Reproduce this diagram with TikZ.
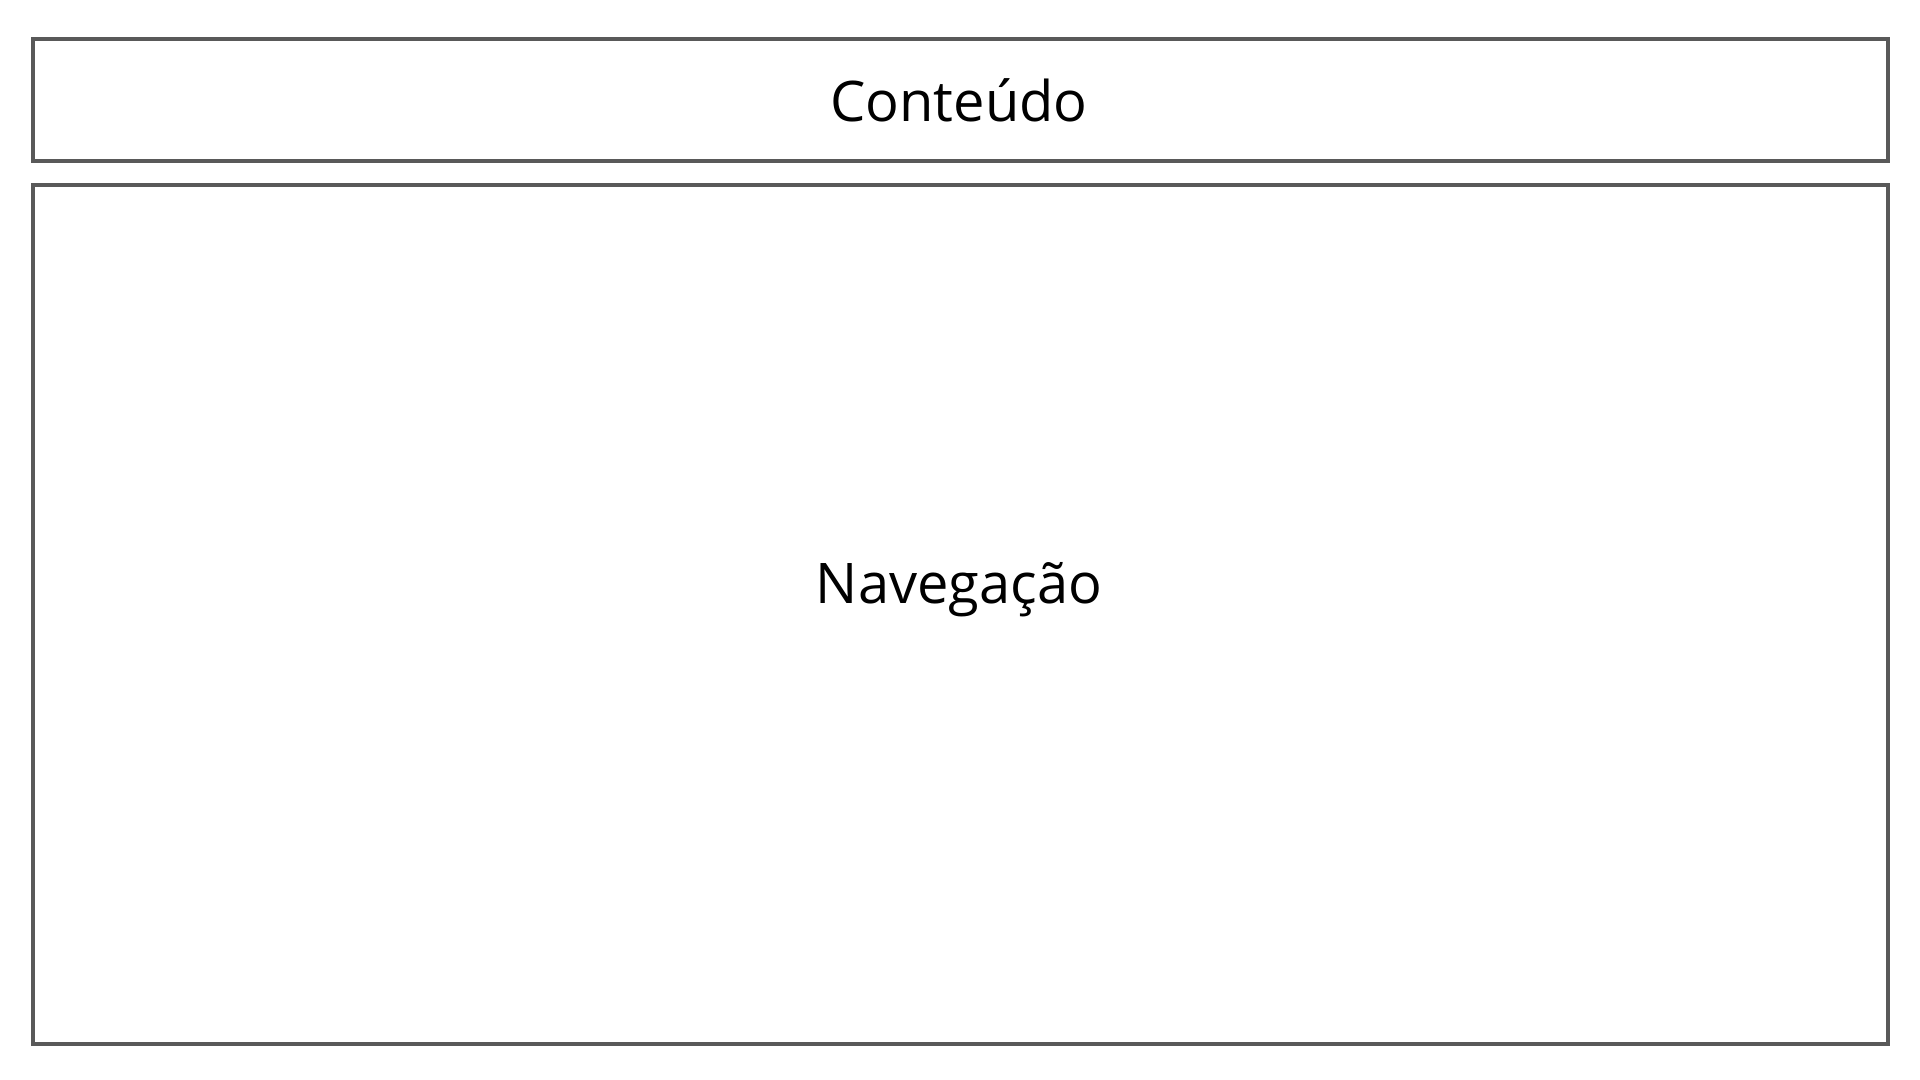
\documentclass[tikz,border=0pt]{standalone}
\usepackage{fontspec}
\setmainfont{Open Sans}
\definecolor{boxgray}{HTML}{595959}
\tikzset{
  panel/.style={draw=boxgray, line width=2pt},
  label/.style={font=\fontsize{28}{34}\selectfont, text=black, anchor=base, inner sep=0pt}
}
\begin{document}
\begin{tikzpicture}[x=0.5pt,y=-0.5pt]
\useasboundingbox[fill=white] (0,0) rectangle (1920,1080);
\draw[panel] (33,39.5) rectangle (1888,161);
\draw[panel] (33,185) rectangle (1888,1044);
\node[label] (conteudo) at (959,122) {Conteúdo};
\node[label] (navegacao) at (959,603) {Navegação};
\end{tikzpicture}
\end{document}
